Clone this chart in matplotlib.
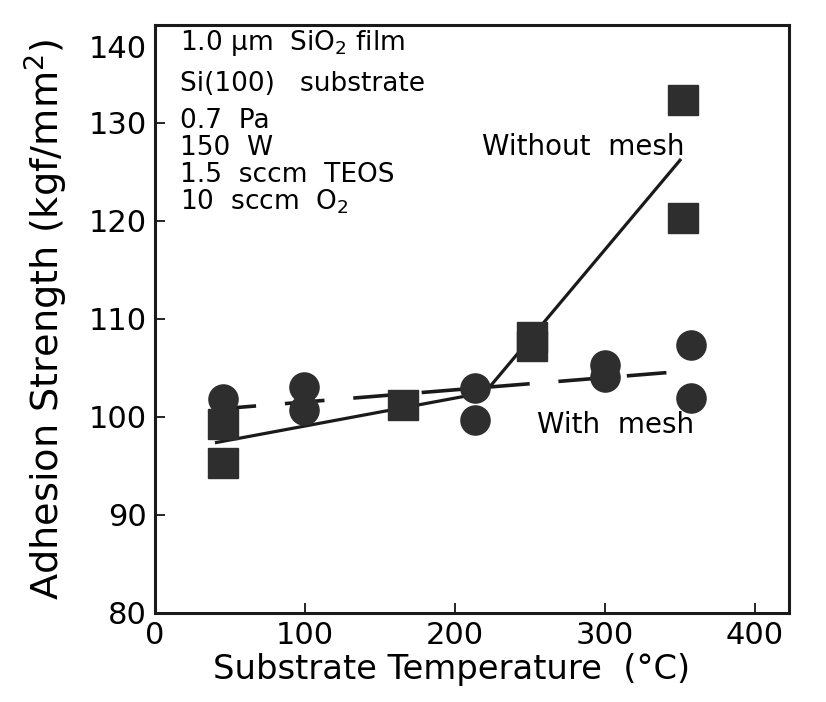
import matplotlib
matplotlib.use("Agg")
import matplotlib.pyplot as plt
import matplotlib.transforms as mtransforms

plt.rcParams['font.family'] = ['DejaVu Sans']
plt.rcParams['mathtext.fontset'] = 'dejavusans'

# Adhesion strength of SiO2 films vs. substrate temperature
without_x = [45, 45, 165, 251, 251, 352, 352]
without_y = [95.3, 99.3, 101.2, 108.2, 107.2, 132.3, 120.3]

with_x = [45, 99, 99, 213, 213, 300, 300, 357, 357]
with_y = [101.8, 103.1, 100.7, 103.0, 99.7, 105.3, 104.1, 107.3, 101.9]

# trend lines drawn through each series
without_fit_x = [41, 220, 350]
without_fit_y = [97.4, 102.5, 126.2]
with_fit_x = [41, 355]
with_fit_y = [100.8, 104.7]

x_ticks = [0, 100, 200, 300, 400]
y_ticks = [80, 90, 100, 110, 120, 130, 140]

conditions = [
    "1.0 μm  SiO$_2$ film",
    "Si(100)   substrate",
    "0.7  Pa",
    "150  W",
    "1.5  sccm  TEOS",
    "10  sccm  O$_2$",
]
cond_y = [43, 84, 121, 148, 175, 202]  # pixel rows of the condition lines

W, H = 826, 702
fig = plt.figure(figsize=(W / 100, H / 100), dpi=100)
ax = fig.add_axes([155 / W, 1 - 613 / H, 634 / W, 588 / H])

ink = '#2e2e2e'
ax.plot(without_fit_x, without_fit_y, '-', color='#1a1a1a', lw=2.3, zorder=2)
ax.plot(with_fit_x, with_fit_y, color='#1a1a1a', lw=2.6, dashes=(11, 8), zorder=2)
ax.plot(without_x, without_y, 's', ms=21, color=ink, mec=ink, zorder=3)
ax.plot(with_x, with_y, 'o', ms=21, color=ink, mec=ink, zorder=3)

ax.set_xlim(0, 634 / 1.5)
ax.set_ylim(80, 140)
ax.set_xticks(x_ticks)
ax.set_yticks(y_ticks)
ax.tick_params(direction='in', length=7, width=1.2, labelsize=22, pad=6)
for sp in ax.spines.values():
    sp.set_linewidth(2.2)
    sp.set_color('#1a1a1a')

# nudge the top y label down inside the frame
lbl = ax.get_yticklabels()[-1]
lbl.set_transform(lbl.get_transform() + mtransforms.ScaledTranslation(0, -22 / 100, fig.dpi_scale_trans))

ax.set_xlabel("Substrate Temperature  (°C)", fontsize=24.3)
ax.xaxis.set_label_coords((452 - 155) / 634, -0.068)
ax.set_ylabel("Adhesion Strength (kgf/mm$^2$)", fontsize=27.5)
ax.yaxis.set_label_coords(-(155 - 70) / 634, 0.5)

for txt, yp in zip(conditions, cond_y):
    fig.text(180 / W, 1 - yp / H, txt, fontsize=19, ha='left', va='center')

fig.text(482 / W, 1 - 147 / H, "Without  mesh", fontsize=20, ha='left', va='center')
fig.text(537 / W, 1 - 425 / H, "With  mesh", fontsize=20, ha='left', va='center')

fig.savefig("out.png", dpi=100)
